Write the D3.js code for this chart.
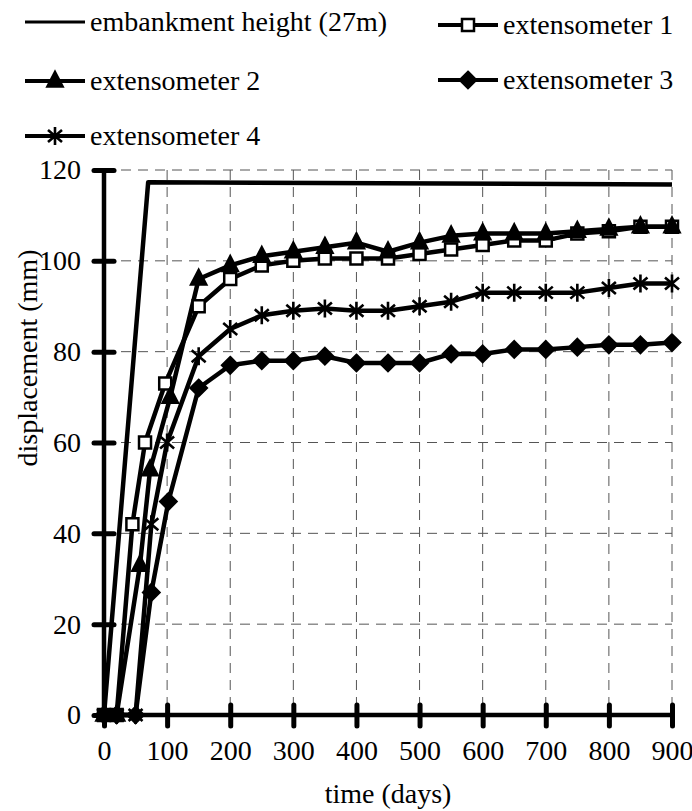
<!DOCTYPE html>
<html>
<head>
<meta charset="utf-8">
<script src="https://cdn.jsdelivr.net/npm/d3@7"></script>
<style>
  html, body { margin: 0; padding: 0; background: #fff; }
  svg { display: block; }
  svg text { font-family: 'Liberation Serif', 'DejaVu Serif', 'Times New Roman', serif; }
</style>
</head>
<body>
<div id="chart"></div>
<script>
'use strict';

// axis ticks
var xTicks = [0, 100, 200, 300, 400, 500, 600, 700, 800, 900];
var yTicks = [0, 20, 40, 60, 80, 100, 120];

// embankment height (drawn on the displacement scale)
var embankmentDays = [0, 70, 900];
var embankmentValues = [0, 117.3, 116.8];

// extensometer readings (mm)
var ext1Days = [0, 20, 45, 65, 97, 150, 200, 250, 300, 350, 400, 450, 500, 550, 600, 650, 700, 750, 800, 850, 900];
var ext1Values = [0, 0, 42, 60, 73, 90, 96, 99, 100, 100.5, 100.5, 100.5, 101.5, 102.5, 103.5, 104.5, 104.5, 106, 106.5, 107.5, 107.5];

var ext2Days = [0, 20, 57, 73, 105, 150, 200, 250, 300, 350, 400, 450, 500, 550, 600, 650, 700, 750, 800, 850, 900];
var ext2Values = [0, 0, 33, 54, 70, 96, 99, 101, 102, 103, 104, 102, 104, 105.5, 106, 106, 106, 106.5, 107, 107.5, 107.5];

var ext3Days = [0, 20, 50, 75, 102, 150, 200, 250, 300, 350, 400, 450, 500, 550, 600, 650, 700, 750, 800, 850, 900];
var ext3Values = [0, 0, 0, 27, 47, 72, 77, 78, 78, 79, 77.5, 77.5, 77.5, 79.5, 79.5, 80.5, 80.5, 81, 81.5, 81.5, 82];

var ext4Days = [0, 20, 50, 75, 100, 150, 200, 250, 300, 350, 400, 450, 500, 550, 600, 650, 700, 750, 800, 850, 900];
var ext4Values = [0, 0, 0, 42, 60, 79, 85, 88, 89, 89.5, 89, 89, 90, 91, 93, 93, 93, 93, 94, 95, 95];

var series = [
  { name: 'extensometer 1', days: ext1Days, values: ext1Values, marker: 'square' },
  { name: 'extensometer 2', days: ext2Days, values: ext2Values, marker: 'triangle' },
  { name: 'extensometer 3', days: ext3Days, values: ext3Values, marker: 'diamond' },
  { name: 'extensometer 4', days: ext4Days, values: ext4Values, marker: 'star' }
];

var W = 692, H = 811;
var FONT = "'Liberation Serif', 'DejaVu Serif', 'Times New Roman', serif";
var FS = 28;

var svg = d3.select('#chart').append('svg')
  .attr('width', W)
  .attr('height', H)
  .attr('viewBox', [0, 0, W, H]);

var x = d3.scaleLinear().domain([0, 900]).range([104, 672]);
var y = d3.scaleLinear().domain([0, 120]).range([715, 170]);

// marker path for a given kind, centred on 0,0
function markerPath(kind) {
  if (kind === 'square') return 'M-6,-6H6V6H-6Z';
  if (kind === 'triangle') return 'M0,-9L7.5,5.5H-7.5Z';
  if (kind === 'diamond') return 'M0,-8L8,0L0,8L-8,0Z';
  // excel-style star: X plus a vertical bar
  return 'M-7,-6L7,6M-7,6L7,-6M0,-9V9';
}

function drawMarker(sel, kind) {
  sel.append('path')
    .attr('d', markerPath(kind))
    .attr('fill', kind === 'square' ? '#fff' : (kind === 'star' ? 'none' : '#000'))
    .attr('stroke', '#000')
    .attr('stroke-width', kind === 'square' ? 2.5 : 2.6)
    .attr('stroke-linejoin', 'miter');
}

// dashed grid
var grid = svg.append('g').attr('class', 'grid')
  .attr('stroke', '#555')
  .attr('stroke-width', 1)
  .attr('stroke-dasharray', '10,7');

grid.selectAll('line.v')
  .data(xTicks.filter(function (d) { return d > 0; }))
  .join('line')
  .attr('class', 'v')
  .attr('x1', function (d) { return x(d); })
  .attr('x2', function (d) { return x(d); })
  .attr('y1', y(120))
  .attr('y2', y(0));

grid.selectAll('line.h')
  .data(yTicks.filter(function (d) { return d > 0; }))
  .join('line')
  .attr('class', 'h')
  .attr('x1', x(0))
  .attr('x2', x(900))
  .attr('y1', function (d) { return y(d); })
  .attr('y2', function (d) { return y(d); });

var line = d3.line()
  .x(function (d) { return x(d[0]); })
  .y(function (d) { return y(d[1]); });

// embankment
svg.append('path')
  .datum(d3.zip(embankmentDays, embankmentValues))
  .attr('d', line)
  .attr('fill', 'none')
  .attr('stroke', '#000')
  .attr('stroke-width', 4.5)
  .attr('stroke-linejoin', 'round');

// extensometer lines
series.forEach(function (s) {
  svg.append('path')
    .datum(d3.zip(s.days, s.values))
    .attr('d', line)
    .attr('fill', 'none')
    .attr('stroke', '#000')
    .attr('stroke-width', 4.5)
    .attr('stroke-linejoin', 'round');
});

// axes
var yAxis = svg.append('g')
  .attr('transform', 'translate(' + x(0) + ',0)')
  .call(d3.axisLeft(y).tickValues(yTicks).tickSize(10).tickPadding(14));
yAxis.attr('font-family', null).attr('font-size', null);
yAxis.select('.domain')
  .attr('d', 'M0,' + y(0) + 'V' + y(120))
  .attr('stroke-width', 4.5);
yAxis.selectAll('.tick line')
  .attr('x1', -10).attr('x2', 10)
  .attr('stroke-width', 5)
  .attr('stroke-linecap', 'round');
yAxis.selectAll('.tick text')
  .attr('x', -23)
  .style('font-family', FONT)
  .attr('font-size', FS)
  .attr('fill', '#000');

var xAxis = svg.append('g')
  .attr('transform', 'translate(0,' + y(0) + ')')
  .call(d3.axisBottom(x).tickValues(xTicks).tickSize(10).tickPadding(14));
xAxis.attr('font-family', null).attr('font-size', null);
xAxis.select('.domain')
  .attr('d', 'M' + x(0) + ',0H' + x(900))
  .attr('stroke-width', 4.5);
xAxis.selectAll('.tick line')
  .attr('y1', -10).attr('y2', 11)
  .attr('stroke-width', 5)
  .attr('stroke-linecap', 'round');
xAxis.selectAll('.tick text')
  .attr('y', 36)
  .attr('dy', '0.32em')
  .style('font-family', FONT)
  .attr('font-size', FS)
  .attr('fill', '#000');

// markers on top of everything
series.forEach(function (s) {
  svg.append('g')
    .selectAll('g')
    .data(d3.zip(s.days, s.values))
    .join('g')
    .attr('transform', function (d) { return 'translate(' + x(d[0]) + ',' + y(d[1]) + ')'; })
    .each(function () { drawMarker(d3.select(this), s.marker); });
});

// axis titles
svg.append('text')
  .attr('x', (x(0) + x(900)) / 2)
  .attr('y', 803)
  .attr('text-anchor', 'middle')
  .style('font-family', FONT)
  .attr('font-size', FS)
  .text('time (days)');

svg.append('text')
  .attr('transform', 'translate(28,358) rotate(-90)')
  .attr('dy', '0.32em')
  .attr('text-anchor', 'middle')
  .style('font-family', FONT)
  .attr('font-size', FS)
  .text('displacement (mm)');

// legend
var legendItems = [
  { name: 'embankment height (27m)', marker: null, lx: 25, ly: 22 },
  { name: 'extensometer 1', marker: 'square', lx: 438, ly: 25 },
  { name: 'extensometer 2', marker: 'triangle', lx: 25, ly: 81 },
  { name: 'extensometer 3', marker: 'diamond', lx: 438, ly: 80 },
  { name: 'extensometer 4', marker: 'star', lx: 25, ly: 136 }
];

var legend = svg.append('g').attr('class', 'legend');
legendItems.forEach(function (it) {
  var g = legend.append('g').attr('transform', 'translate(' + it.lx + ',' + it.ly + ')');
  g.append('line')
    .attr('x1', 0).attr('x2', 60)
    .attr('stroke', '#000')
    .attr('stroke-width', it.marker ? 4 : 3);
  if (it.marker) {
    var m = g.append('g').attr('transform', 'translate(30,0)');
    drawMarker(m, it.marker);
  }
  g.append('text')
    .attr('x', 65)
    .attr('dy', '0.32em')
    .style('font-family', FONT)
    .attr('font-size', FS)
    .text(it.name);
});
</script>
</body>
</html>
